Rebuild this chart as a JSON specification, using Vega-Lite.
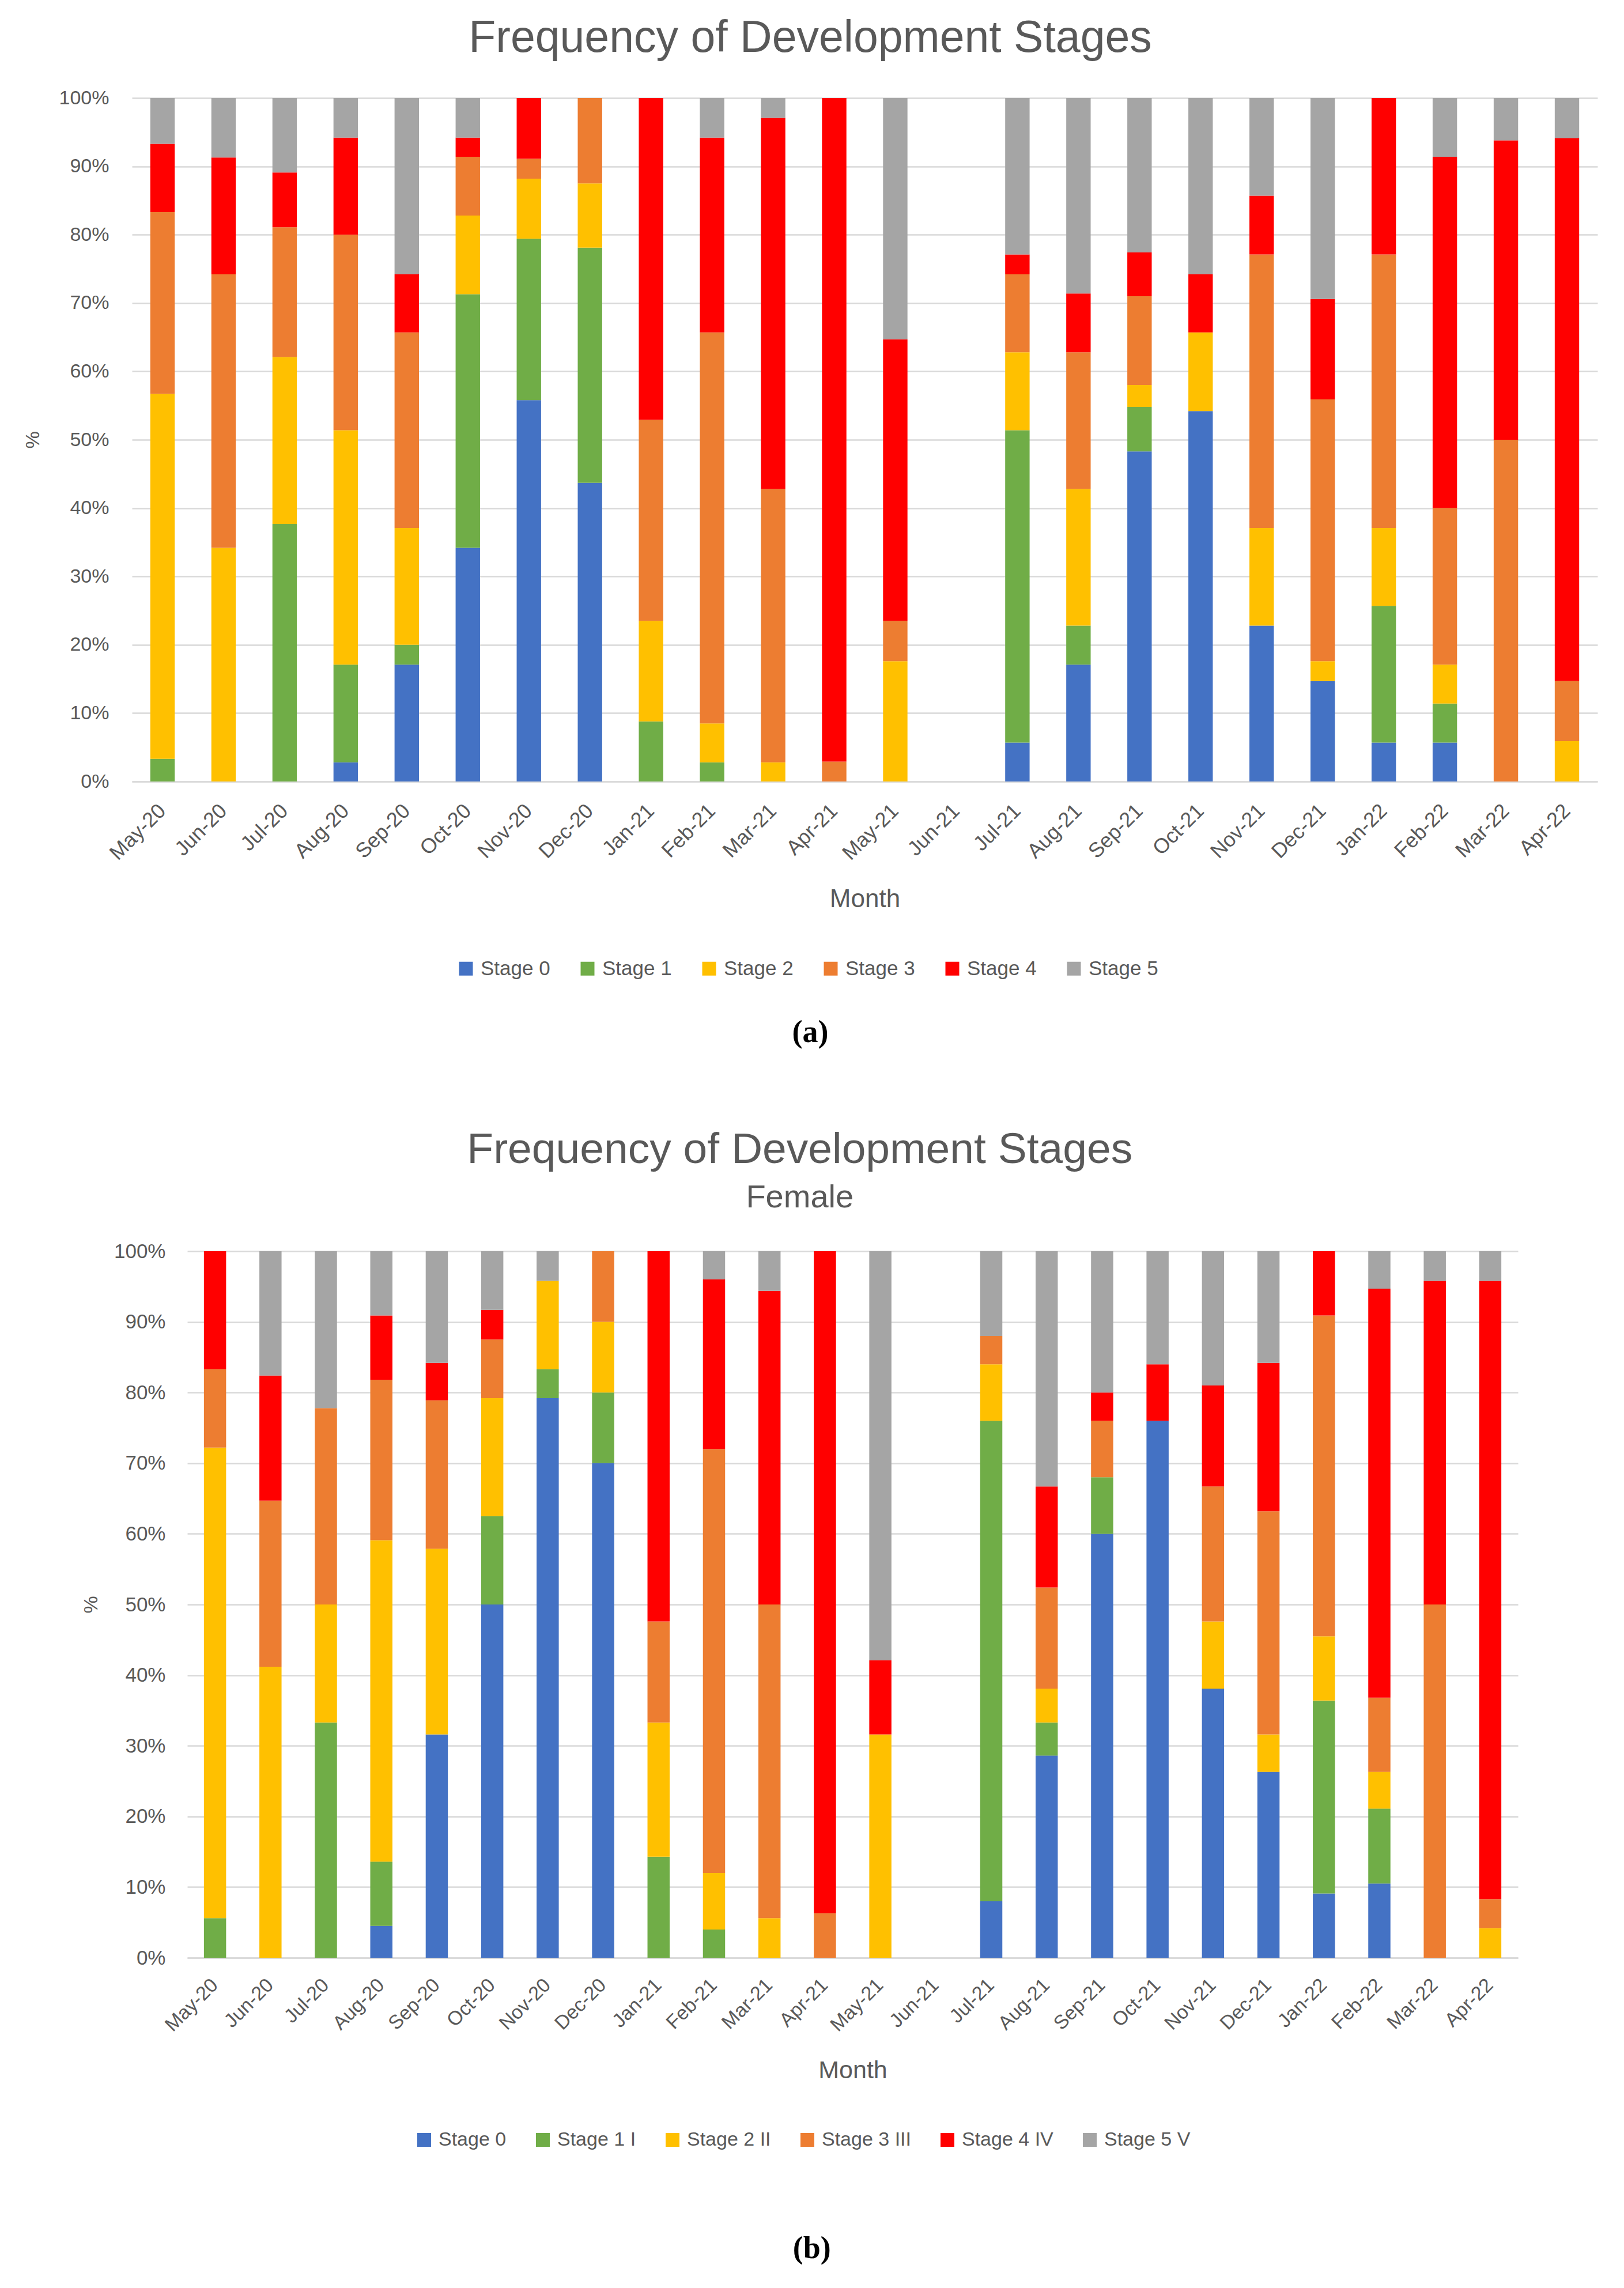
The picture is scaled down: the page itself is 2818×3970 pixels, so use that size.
{
  "$schema": "https://vega.github.io/schema/vega-lite/v6.json",
  "background": "white",
  "padding": {"left": 40, "top": 28, "right": 10, "bottom": 10},
  "config": {
    "view": {"stroke": null},
    "font": "Liberation Sans",
    "axis": {
      "labelFont": "Liberation Sans",
      "titleFont": "Liberation Sans",
      "labelColor": "#595959",
      "titleColor": "#595959",
      "titleFontWeight": "normal",
      "gridColor": "#D9D9D9",
      "gridWidth": 2.5,
      "domainColor": "#D9D9D9",
      "domainWidth": 2.5,
      "ticks": false
    },
    "legend": {
      "labelFont": "Liberation Sans",
      "labelColor": "#595959",
      "symbolType": "square",
      "symbolStrokeWidth": 0,
      "labelOffset": 8
    }
  },
  "datasets": {
    "a": [
      {"month": "May-20", "stage": "Stage 1", "pct": 3.3},
      {"month": "May-20", "stage": "Stage 2", "pct": 53.4},
      {"month": "May-20", "stage": "Stage 3", "pct": 26.6},
      {"month": "May-20", "stage": "Stage 4", "pct": 10.0},
      {"month": "May-20", "stage": "Stage 5", "pct": 6.7},
      {"month": "Jun-20", "stage": "Stage 2", "pct": 34.2},
      {"month": "Jun-20", "stage": "Stage 3", "pct": 40.0},
      {"month": "Jun-20", "stage": "Stage 4", "pct": 17.1},
      {"month": "Jun-20", "stage": "Stage 5", "pct": 8.7},
      {"month": "Jul-20", "stage": "Stage 1", "pct": 37.7},
      {"month": "Jul-20", "stage": "Stage 2", "pct": 24.4},
      {"month": "Jul-20", "stage": "Stage 3", "pct": 19.0},
      {"month": "Jul-20", "stage": "Stage 4", "pct": 8.0},
      {"month": "Jul-20", "stage": "Stage 5", "pct": 10.9},
      {"month": "Aug-20", "stage": "Stage 0", "pct": 2.8},
      {"month": "Aug-20", "stage": "Stage 1", "pct": 14.3},
      {"month": "Aug-20", "stage": "Stage 2", "pct": 34.3},
      {"month": "Aug-20", "stage": "Stage 3", "pct": 28.6},
      {"month": "Aug-20", "stage": "Stage 4", "pct": 14.2},
      {"month": "Aug-20", "stage": "Stage 5", "pct": 5.8},
      {"month": "Sep-20", "stage": "Stage 0", "pct": 17.1},
      {"month": "Sep-20", "stage": "Stage 1", "pct": 2.9},
      {"month": "Sep-20", "stage": "Stage 2", "pct": 17.1},
      {"month": "Sep-20", "stage": "Stage 3", "pct": 28.6},
      {"month": "Sep-20", "stage": "Stage 4", "pct": 8.5},
      {"month": "Sep-20", "stage": "Stage 5", "pct": 25.8},
      {"month": "Oct-20", "stage": "Stage 0", "pct": 34.2},
      {"month": "Oct-20", "stage": "Stage 1", "pct": 37.1},
      {"month": "Oct-20", "stage": "Stage 2", "pct": 11.5},
      {"month": "Oct-20", "stage": "Stage 3", "pct": 8.6},
      {"month": "Oct-20", "stage": "Stage 4", "pct": 2.8},
      {"month": "Oct-20", "stage": "Stage 5", "pct": 5.8},
      {"month": "Nov-20", "stage": "Stage 0", "pct": 55.8},
      {"month": "Nov-20", "stage": "Stage 1", "pct": 23.6},
      {"month": "Nov-20", "stage": "Stage 2", "pct": 8.8},
      {"month": "Nov-20", "stage": "Stage 3", "pct": 2.9},
      {"month": "Nov-20", "stage": "Stage 4", "pct": 8.9},
      {"month": "Dec-20", "stage": "Stage 0", "pct": 43.7},
      {"month": "Dec-20", "stage": "Stage 1", "pct": 34.4},
      {"month": "Dec-20", "stage": "Stage 2", "pct": 9.4},
      {"month": "Dec-20", "stage": "Stage 3", "pct": 12.5},
      {"month": "Jan-21", "stage": "Stage 1", "pct": 8.8},
      {"month": "Jan-21", "stage": "Stage 2", "pct": 14.7},
      {"month": "Jan-21", "stage": "Stage 3", "pct": 29.4},
      {"month": "Jan-21", "stage": "Stage 4", "pct": 47.1},
      {"month": "Feb-21", "stage": "Stage 1", "pct": 2.8},
      {"month": "Feb-21", "stage": "Stage 2", "pct": 5.7},
      {"month": "Feb-21", "stage": "Stage 3", "pct": 57.2},
      {"month": "Feb-21", "stage": "Stage 4", "pct": 28.5},
      {"month": "Feb-21", "stage": "Stage 5", "pct": 5.8},
      {"month": "Mar-21", "stage": "Stage 2", "pct": 2.8},
      {"month": "Mar-21", "stage": "Stage 3", "pct": 40.0},
      {"month": "Mar-21", "stage": "Stage 4", "pct": 54.3},
      {"month": "Mar-21", "stage": "Stage 5", "pct": 2.9},
      {"month": "Apr-21", "stage": "Stage 3", "pct": 2.9},
      {"month": "Apr-21", "stage": "Stage 4", "pct": 97.1},
      {"month": "May-21", "stage": "Stage 2", "pct": 17.6},
      {"month": "May-21", "stage": "Stage 3", "pct": 5.9},
      {"month": "May-21", "stage": "Stage 4", "pct": 41.2},
      {"month": "May-21", "stage": "Stage 5", "pct": 35.3},
      {"month": "Jul-21", "stage": "Stage 0", "pct": 5.7},
      {"month": "Jul-21", "stage": "Stage 1", "pct": 45.7},
      {"month": "Jul-21", "stage": "Stage 2", "pct": 11.4},
      {"month": "Jul-21", "stage": "Stage 3", "pct": 11.4},
      {"month": "Jul-21", "stage": "Stage 4", "pct": 2.9},
      {"month": "Jul-21", "stage": "Stage 5", "pct": 22.9},
      {"month": "Aug-21", "stage": "Stage 0", "pct": 17.1},
      {"month": "Aug-21", "stage": "Stage 1", "pct": 5.7},
      {"month": "Aug-21", "stage": "Stage 2", "pct": 20.0},
      {"month": "Aug-21", "stage": "Stage 3", "pct": 20.0},
      {"month": "Aug-21", "stage": "Stage 4", "pct": 8.6},
      {"month": "Aug-21", "stage": "Stage 5", "pct": 28.6},
      {"month": "Sep-21", "stage": "Stage 0", "pct": 48.3},
      {"month": "Sep-21", "stage": "Stage 1", "pct": 6.5},
      {"month": "Sep-21", "stage": "Stage 2", "pct": 3.2},
      {"month": "Sep-21", "stage": "Stage 3", "pct": 13.0},
      {"month": "Sep-21", "stage": "Stage 4", "pct": 6.4},
      {"month": "Sep-21", "stage": "Stage 5", "pct": 22.6},
      {"month": "Oct-21", "stage": "Stage 0", "pct": 54.2},
      {"month": "Oct-21", "stage": "Stage 2", "pct": 11.5},
      {"month": "Oct-21", "stage": "Stage 4", "pct": 8.5},
      {"month": "Oct-21", "stage": "Stage 5", "pct": 25.8},
      {"month": "Nov-21", "stage": "Stage 0", "pct": 22.8},
      {"month": "Nov-21", "stage": "Stage 2", "pct": 14.3},
      {"month": "Nov-21", "stage": "Stage 3", "pct": 40.0},
      {"month": "Nov-21", "stage": "Stage 4", "pct": 8.6},
      {"month": "Nov-21", "stage": "Stage 5", "pct": 14.3},
      {"month": "Dec-21", "stage": "Stage 0", "pct": 14.7},
      {"month": "Dec-21", "stage": "Stage 2", "pct": 2.9},
      {"month": "Dec-21", "stage": "Stage 3", "pct": 38.3},
      {"month": "Dec-21", "stage": "Stage 4", "pct": 14.7},
      {"month": "Dec-21", "stage": "Stage 5", "pct": 29.4},
      {"month": "Jan-22", "stage": "Stage 0", "pct": 5.7},
      {"month": "Jan-22", "stage": "Stage 1", "pct": 20.0},
      {"month": "Jan-22", "stage": "Stage 2", "pct": 11.4},
      {"month": "Jan-22", "stage": "Stage 3", "pct": 40.0},
      {"month": "Jan-22", "stage": "Stage 4", "pct": 22.9},
      {"month": "Feb-22", "stage": "Stage 0", "pct": 5.7},
      {"month": "Feb-22", "stage": "Stage 1", "pct": 5.7},
      {"month": "Feb-22", "stage": "Stage 2", "pct": 5.7},
      {"month": "Feb-22", "stage": "Stage 3", "pct": 22.9},
      {"month": "Feb-22", "stage": "Stage 4", "pct": 51.4},
      {"month": "Feb-22", "stage": "Stage 5", "pct": 8.6},
      {"month": "Mar-22", "stage": "Stage 3", "pct": 50.0},
      {"month": "Mar-22", "stage": "Stage 4", "pct": 43.8},
      {"month": "Mar-22", "stage": "Stage 5", "pct": 6.2},
      {"month": "Apr-22", "stage": "Stage 2", "pct": 5.9},
      {"month": "Apr-22", "stage": "Stage 3", "pct": 8.8},
      {"month": "Apr-22", "stage": "Stage 4", "pct": 79.4},
      {"month": "Apr-22", "stage": "Stage 5", "pct": 5.9}
    ],
    "b": [
      {"month": "May-20", "stage": "Stage 1 I", "pct": 5.6},
      {"month": "May-20", "stage": "Stage 2 II", "pct": 66.6},
      {"month": "May-20", "stage": "Stage 3 III", "pct": 11.1},
      {"month": "May-20", "stage": "Stage 4 IV", "pct": 16.7},
      {"month": "Jun-20", "stage": "Stage 2 II", "pct": 41.2},
      {"month": "Jun-20", "stage": "Stage 3 III", "pct": 23.5},
      {"month": "Jun-20", "stage": "Stage 4 IV", "pct": 17.7},
      {"month": "Jun-20", "stage": "Stage 5 V", "pct": 17.6},
      {"month": "Jul-20", "stage": "Stage 1 I", "pct": 33.3},
      {"month": "Jul-20", "stage": "Stage 2 II", "pct": 16.7},
      {"month": "Jul-20", "stage": "Stage 3 III", "pct": 27.8},
      {"month": "Jul-20", "stage": "Stage 5 V", "pct": 22.2},
      {"month": "Aug-20", "stage": "Stage 0", "pct": 4.5},
      {"month": "Aug-20", "stage": "Stage 1 I", "pct": 9.1},
      {"month": "Aug-20", "stage": "Stage 2 II", "pct": 45.5},
      {"month": "Aug-20", "stage": "Stage 3 III", "pct": 22.7},
      {"month": "Aug-20", "stage": "Stage 4 IV", "pct": 9.1},
      {"month": "Aug-20", "stage": "Stage 5 V", "pct": 9.1},
      {"month": "Sep-20", "stage": "Stage 0", "pct": 31.6},
      {"month": "Sep-20", "stage": "Stage 2 II", "pct": 26.3},
      {"month": "Sep-20", "stage": "Stage 3 III", "pct": 21.0},
      {"month": "Sep-20", "stage": "Stage 4 IV", "pct": 5.3},
      {"month": "Sep-20", "stage": "Stage 5 V", "pct": 15.8},
      {"month": "Oct-20", "stage": "Stage 0", "pct": 50.0},
      {"month": "Oct-20", "stage": "Stage 1 I", "pct": 12.5},
      {"month": "Oct-20", "stage": "Stage 2 II", "pct": 16.7},
      {"month": "Oct-20", "stage": "Stage 3 III", "pct": 8.3},
      {"month": "Oct-20", "stage": "Stage 4 IV", "pct": 4.2},
      {"month": "Oct-20", "stage": "Stage 5 V", "pct": 8.3},
      {"month": "Nov-20", "stage": "Stage 0", "pct": 79.2},
      {"month": "Nov-20", "stage": "Stage 1 I", "pct": 4.1},
      {"month": "Nov-20", "stage": "Stage 2 II", "pct": 12.5},
      {"month": "Nov-20", "stage": "Stage 5 V", "pct": 4.2},
      {"month": "Dec-20", "stage": "Stage 0", "pct": 70.0},
      {"month": "Dec-20", "stage": "Stage 1 I", "pct": 10.0},
      {"month": "Dec-20", "stage": "Stage 2 II", "pct": 10.0},
      {"month": "Dec-20", "stage": "Stage 3 III", "pct": 10.0},
      {"month": "Jan-21", "stage": "Stage 1 I", "pct": 14.3},
      {"month": "Jan-21", "stage": "Stage 2 II", "pct": 19.0},
      {"month": "Jan-21", "stage": "Stage 3 III", "pct": 14.3},
      {"month": "Jan-21", "stage": "Stage 4 IV", "pct": 52.4},
      {"month": "Feb-21", "stage": "Stage 1 I", "pct": 4.0},
      {"month": "Feb-21", "stage": "Stage 2 II", "pct": 8.0},
      {"month": "Feb-21", "stage": "Stage 3 III", "pct": 60.0},
      {"month": "Feb-21", "stage": "Stage 4 IV", "pct": 24.0},
      {"month": "Feb-21", "stage": "Stage 5 V", "pct": 4.0},
      {"month": "Mar-21", "stage": "Stage 2 II", "pct": 5.6},
      {"month": "Mar-21", "stage": "Stage 3 III", "pct": 44.4},
      {"month": "Mar-21", "stage": "Stage 4 IV", "pct": 44.4},
      {"month": "Mar-21", "stage": "Stage 5 V", "pct": 5.6},
      {"month": "Apr-21", "stage": "Stage 3 III", "pct": 6.3},
      {"month": "Apr-21", "stage": "Stage 4 IV", "pct": 93.7},
      {"month": "May-21", "stage": "Stage 2 II", "pct": 31.6},
      {"month": "May-21", "stage": "Stage 4 IV", "pct": 10.5},
      {"month": "May-21", "stage": "Stage 5 V", "pct": 57.9},
      {"month": "Jul-21", "stage": "Stage 0", "pct": 8.0},
      {"month": "Jul-21", "stage": "Stage 1 I", "pct": 68.0},
      {"month": "Jul-21", "stage": "Stage 2 II", "pct": 8.0},
      {"month": "Jul-21", "stage": "Stage 3 III", "pct": 4.0},
      {"month": "Jul-21", "stage": "Stage 5 V", "pct": 12.0},
      {"month": "Aug-21", "stage": "Stage 0", "pct": 28.6},
      {"month": "Aug-21", "stage": "Stage 1 I", "pct": 4.7},
      {"month": "Aug-21", "stage": "Stage 2 II", "pct": 4.8},
      {"month": "Aug-21", "stage": "Stage 3 III", "pct": 14.3},
      {"month": "Aug-21", "stage": "Stage 4 IV", "pct": 14.3},
      {"month": "Aug-21", "stage": "Stage 5 V", "pct": 33.3},
      {"month": "Sep-21", "stage": "Stage 0", "pct": 60.0},
      {"month": "Sep-21", "stage": "Stage 1 I", "pct": 8.0},
      {"month": "Sep-21", "stage": "Stage 3 III", "pct": 8.0},
      {"month": "Sep-21", "stage": "Stage 4 IV", "pct": 4.0},
      {"month": "Sep-21", "stage": "Stage 5 V", "pct": 20.0},
      {"month": "Oct-21", "stage": "Stage 0", "pct": 76.0},
      {"month": "Oct-21", "stage": "Stage 4 IV", "pct": 8.0},
      {"month": "Oct-21", "stage": "Stage 5 V", "pct": 16.0},
      {"month": "Nov-21", "stage": "Stage 0", "pct": 38.1},
      {"month": "Nov-21", "stage": "Stage 2 II", "pct": 9.5},
      {"month": "Nov-21", "stage": "Stage 3 III", "pct": 19.1},
      {"month": "Nov-21", "stage": "Stage 4 IV", "pct": 14.3},
      {"month": "Nov-21", "stage": "Stage 5 V", "pct": 19.0},
      {"month": "Dec-21", "stage": "Stage 0", "pct": 26.3},
      {"month": "Dec-21", "stage": "Stage 2 II", "pct": 5.3},
      {"month": "Dec-21", "stage": "Stage 3 III", "pct": 31.6},
      {"month": "Dec-21", "stage": "Stage 4 IV", "pct": 21.0},
      {"month": "Dec-21", "stage": "Stage 5 V", "pct": 15.8},
      {"month": "Jan-22", "stage": "Stage 0", "pct": 9.1},
      {"month": "Jan-22", "stage": "Stage 1 I", "pct": 27.3},
      {"month": "Jan-22", "stage": "Stage 2 II", "pct": 9.1},
      {"month": "Jan-22", "stage": "Stage 3 III", "pct": 45.4},
      {"month": "Jan-22", "stage": "Stage 4 IV", "pct": 9.1},
      {"month": "Feb-22", "stage": "Stage 0", "pct": 10.5},
      {"month": "Feb-22", "stage": "Stage 1 I", "pct": 10.6},
      {"month": "Feb-22", "stage": "Stage 2 II", "pct": 5.2},
      {"month": "Feb-22", "stage": "Stage 3 III", "pct": 10.5},
      {"month": "Feb-22", "stage": "Stage 4 IV", "pct": 57.9},
      {"month": "Feb-22", "stage": "Stage 5 V", "pct": 5.3},
      {"month": "Mar-22", "stage": "Stage 3 III", "pct": 50.0},
      {"month": "Mar-22", "stage": "Stage 4 IV", "pct": 45.8},
      {"month": "Mar-22", "stage": "Stage 5 V", "pct": 4.2},
      {"month": "Apr-22", "stage": "Stage 2 II", "pct": 4.2},
      {"month": "Apr-22", "stage": "Stage 3 III", "pct": 4.1},
      {"month": "Apr-22", "stage": "Stage 4 IV", "pct": 87.5},
      {"month": "Apr-22", "stage": "Stage 5 V", "pct": 4.2}
    ]
  },
  "spacing": 139,
  "center": true,
  "vconcat": [
    {
      "title": {"text": "(a)", "orient": "bottom", "anchor": "middle", "frame": "bounds", "font": "Liberation Serif", "fontSize": 54, "fontWeight": "bold", "color": "#000000", "offset": 66},
      "vconcat": [
        {
          "width": 2543,
          "height": 1186,
          "title": {"text": "Frequency of Development Stages", "font": "Liberation Sans", "fontSize": 77, "fontWeight": "normal", "color": "#595959", "anchor": "middle", "frame": "bounds", "offset": 47},
          "data": {"name": "a"},
          "mark": {"type": "bar"},
          "encoding": {
            "x": {
              "field": "month", "type": "ordinal",
              "scale": {"domain": ["May-20","Jun-20","Jul-20","Aug-20","Sep-20","Oct-20","Nov-20","Dec-20","Jan-21","Feb-21","Mar-21","Apr-21","May-21","Jun-21","Jul-21","Aug-21","Sep-21","Oct-21","Nov-21","Dec-21","Jan-22","Feb-22","Mar-22","Apr-22"], "paddingInner": 0.6, "paddingOuter": 0.3},
              "axis": {"title": "Month", "labelAngle": -45, "labelAlign": "right", "labelBaseline": "middle", "labelFontSize": 36, "labelPadding": 45, "titleFontSize": 44, "titlePadding": 40, "grid": false, "domain": true}
            },
            "y": {
              "field": "pct", "type": "quantitative", "stack": "normalize",
              "scale": {"domain": [0, 1]},
              "axis": {"title": "%", "values": [0,0.1,0.2,0.3,0.4,0.5,0.6,0.7,0.8,0.9,1], "format": ".0%", "labelFontSize": 34, "labelPadding": 40, "titleFontSize": 34, "titlePadding": 28, "domain": false, "grid": true}
            },
            "color": {
              "field": "stage", "type": "nominal",
              "scale": {"domain": ["Stage 0","Stage 1","Stage 2","Stage 3","Stage 4","Stage 5"], "range": ["#4472C4","#70AD47","#FFC000","#ED7D31","#FF0000","#A5A5A5"]},
              "legend": {"orient": "none", "legendX": 562, "legendY": 1493, "direction": "horizontal", "title": null, "symbolSize": 576, "labelFontSize": 35, "columnPadding": 47}
            },
            "order": {"field": "stage", "type": "nominal", "sort": "ascending"}
          }
        }
      ]
    },
    {
      "title": {"text": "(b)", "orient": "bottom", "anchor": "middle", "frame": "bounds", "font": "Liberation Serif", "fontSize": 54, "fontWeight": "bold", "color": "#000000", "offset": 145},
      "spacing": 0,
      "hconcat": [
        {
          "width": 2309,
          "height": 1226,
          "title": {"text": "Frequency  of Development Stages", "subtitle": "Female", "font": "Liberation Sans", "fontSize": 75, "fontWeight": "normal", "color": "#595959", "subtitleFont": "Liberation Sans", "subtitleFontSize": 56, "subtitleColor": "#595959", "subtitlePadding": 17, "anchor": "middle", "frame": "bounds", "offset": 47},
          "data": {"name": "b"},
          "mark": {"type": "bar"},
          "encoding": {
            "x": {
              "field": "month", "type": "ordinal",
              "scale": {"domain": ["May-20","Jun-20","Jul-20","Aug-20","Sep-20","Oct-20","Nov-20","Dec-20","Jan-21","Feb-21","Mar-21","Apr-21","May-21","Jun-21","Jul-21","Aug-21","Sep-21","Oct-21","Nov-21","Dec-21","Jan-22","Feb-22","Mar-22","Apr-22"], "paddingInner": 0.6, "paddingOuter": 0.3},
              "axis": {"title": "Month", "labelAngle": -45, "labelAlign": "right", "labelBaseline": "middle", "labelFontSize": 34, "labelPadding": 42, "titleFontSize": 43, "titlePadding": 40, "grid": false, "domain": true}
            },
            "y": {
              "field": "pct", "type": "quantitative", "stack": "normalize",
              "scale": {"domain": [0, 1]},
              "axis": {"title": "%", "values": [0,0.1,0.2,0.3,0.4,0.5,0.6,0.7,0.8,0.9,1], "format": ".0%", "labelFontSize": 35, "labelPadding": 38, "titleFontSize": 34, "titlePadding": 22, "domain": false, "grid": true}
            },
            "color": {
              "field": "stage", "type": "nominal",
              "scale": {"domain": ["Stage 0","Stage 1 I","Stage 2 II","Stage 3 III","Stage 4 IV","Stage 5 V"], "range": ["#4472C4","#70AD47","#FFC000","#ED7D31","#FF0000","#A5A5A5"]},
              "legend": {"orient": "none", "legendX": 394, "legendY": 1525, "direction": "horizontal", "title": null, "symbolSize": 576, "labelFontSize": 34, "columnPadding": 46}
            },
            "order": {"field": "stage", "type": "nominal", "sort": "ascending"}
          }
        },
        {
          "width": 42,
          "height": 10,
          "data": {"values": []},
          "mark": {"type": "rect"},
          "encoding": {}
        }
      ]
    }
  ],
  "resolve": {"scale": {"color": "independent"}, "legend": {"color": "independent"}}
}
